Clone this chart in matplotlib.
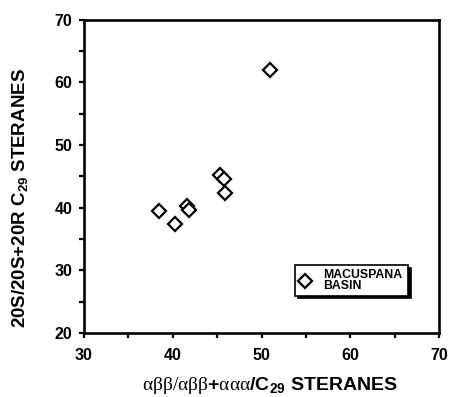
import matplotlib
matplotlib.use("Agg")
import matplotlib.pyplot as plt
from matplotlib.ticker import MultipleLocator

plt.rcParams['font.family'] = ['Liberation Sans', 'DejaVu Sans']
plt.rcParams['mathtext.fontset'] = 'custom'
plt.rcParams['mathtext.rm'] = 'Liberation Serif'
plt.rcParams['mathtext.bf'] = 'Liberation Sans:bold'
plt.rcParams['mathtext.default'] = 'bf'

# sterane ratios, Macuspana basin oils
abb_ratio = [50.9, 38.4, 40.2, 41.6, 41.8, 45.3, 45.8, 45.9]
s_ratio = [62.0, 39.5, 37.4, 40.3, 39.7, 45.2, 44.6, 42.3]
legend_label = "MACUSPANA\nBASIN"

fig = plt.figure(figsize=(4.49, 3.97), dpi=100)
ax = fig.add_axes([0.187, 0.161, 0.791, 0.789])

ax.plot(abb_ratio, s_ratio, linestyle='none', marker='D', markersize=7.5,
        markerfacecolor='white', markeredgecolor='black', markeredgewidth=1.6,
        label=legend_label)

ax.set_xlim(30, 70)
ax.set_ylim(20, 70)
ax.xaxis.set_major_locator(MultipleLocator(10))
ax.yaxis.set_major_locator(MultipleLocator(10))
ax.xaxis.set_minor_locator(MultipleLocator(5))
ax.yaxis.set_minor_locator(MultipleLocator(5))
ax.tick_params(which='both', direction='out', length=3.5, width=1.6,
               labelsize=11.5)
ax.tick_params(axis='x', which='both', pad=7)
ax.tick_params(axis='y', which='both', pad=5)
for lbl in ax.get_xticklabels() + ax.get_yticklabels():
    lbl.set_fontweight('bold')
for sp in ax.spines.values():
    sp.set_linewidth(1.9)

ax.set_ylabel("20S/20S+20R C$_{29}$ STERANES", fontsize=13.5, fontweight='bold')
ax.yaxis.set_label_coords(-0.152, 0.43)
ax.set_xlabel(r"$\mathrm{\alpha\beta\beta/\alpha\beta\beta}$+"
              r"$\mathrm{\alpha\alpha\alpha}$/C$_{29}$ STERANES",
              fontsize=14, fontweight='bold')
ax.xaxis.set_label_coords(0.524, -0.135)

leg = ax.legend(loc='lower left', bbox_to_anchor=(0.577, 0.1, 0.353, 0.1),
                mode='expand', frameon=True, fancybox=False,
                shadow={'color': 'black', 'alpha': 1},
                edgecolor='black', framealpha=1, borderpad=0.3,
                handletextpad=0.9, handlelength=1.1,
                prop={'weight': 'bold', 'size': 8.8})
leg.get_frame().set_linewidth(1.2)
for t in leg.get_texts():
    t.set_linespacing(0.9)

fig.savefig("out.png", dpi=100)
